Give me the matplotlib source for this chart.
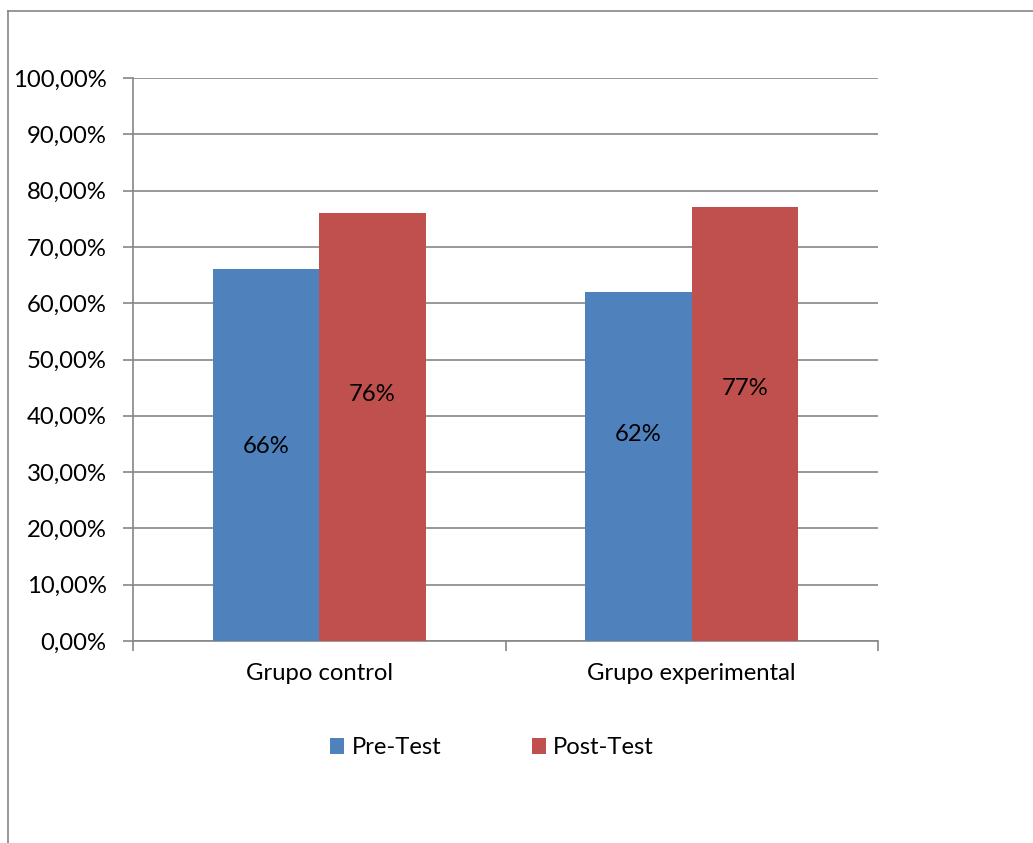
import matplotlib
matplotlib.use("Agg")
import matplotlib.pyplot as plt
from matplotlib.lines import Line2D
from matplotlib.patches import Patch
import numpy as np

# data
categories = ["Grupo control", "Grupo experimental"]
series_names = ["Pre-Test", "Post-Test"]
pre_test = [0.66, 0.62]
post_test = [0.76, 0.77]
y_ticks = np.arange(0, 1.01, 0.1)

colors = ["#4F81BD", "#C0504D"]
grid_color = "#868686"
# where the value labels sit (fraction of the axis height)
label_y = [[0.346, 0.366], [0.437, 0.449]]
fs = 17.2

plt.rcParams["font.family"] = ["Lato", "DejaVu Sans"]

W, H = 1033, 843
fig = plt.figure(figsize=(W / 100, H / 100), dpi=100)

# outer chart frame (only top and left edges are visible in the crop)
fig.add_artist(Line2D([8 / W, 8 / W], [0, 1 - 11 / H], color=grid_color, lw=1.2))
fig.add_artist(Line2D([8 / W, 1], [1 - 11 / H, 1 - 11 / H], color=grid_color, lw=1.2))

left, right, top, bottom = 133, 878, 78, 641
ax = fig.add_axes([left / W, 1 - bottom / H, (right - left) / W, (bottom - top) / H])

x = np.arange(len(categories))
width = 1 / 3.5
values = [pre_test, post_test]
for i, vals in enumerate(values):
    off = (i - 0.5) * width
    ax.bar(x + off, vals, width=width, color=colors[i], zorder=3)
    for j, v in enumerate(vals):
        ax.text(x[j] + off, label_y[i][j], f"{round(v * 100)}%",
                ha="center", va="center", fontsize=fs, color="black", zorder=4)

ax.set_xlim(-0.5, len(categories) - 0.5)
ax.set_ylim(0, 1)
ax.set_yticks(y_ticks)
ax.set_yticklabels([f"{t * 100:.2f}%".replace(".", ",") for t in y_ticks])
ax.yaxis.grid(True, color=grid_color, lw=1.2, zorder=0)
ax.set_axisbelow(True)

ax.set_xticks([-0.5, 0.5, 1.5], minor=False)
ax.set_xticklabels([])
ax.set_xticks(x, minor=True)
ax.set_xticklabels(categories, minor=True, fontsize=fs)
ax.tick_params(axis="x", which="minor", length=0, pad=16)
ax.tick_params(axis="x", which="major", length=7, color=grid_color, width=1.2)
ax.tick_params(axis="y", length=7, color=grid_color, width=1.2, labelsize=fs, pad=12)

for s in ["top", "right"]:
    ax.spines[s].set_visible(False)
for s in ["left", "bottom"]:
    ax.spines[s].set_color(grid_color)
    ax.spines[s].set_linewidth(1.2)

handles = [Patch(facecolor=c, edgecolor="none") for c in colors]
fig.legend(handles, series_names, loc="center", bbox_to_anchor=(492 / W, 1 - 748 / H),
           ncol=2, frameon=False, fontsize=fs, handlelength=0.6, handleheight=0.6,
           handletextpad=0.3, columnspacing=3.8)

fig.savefig("out.png", dpi=100)
